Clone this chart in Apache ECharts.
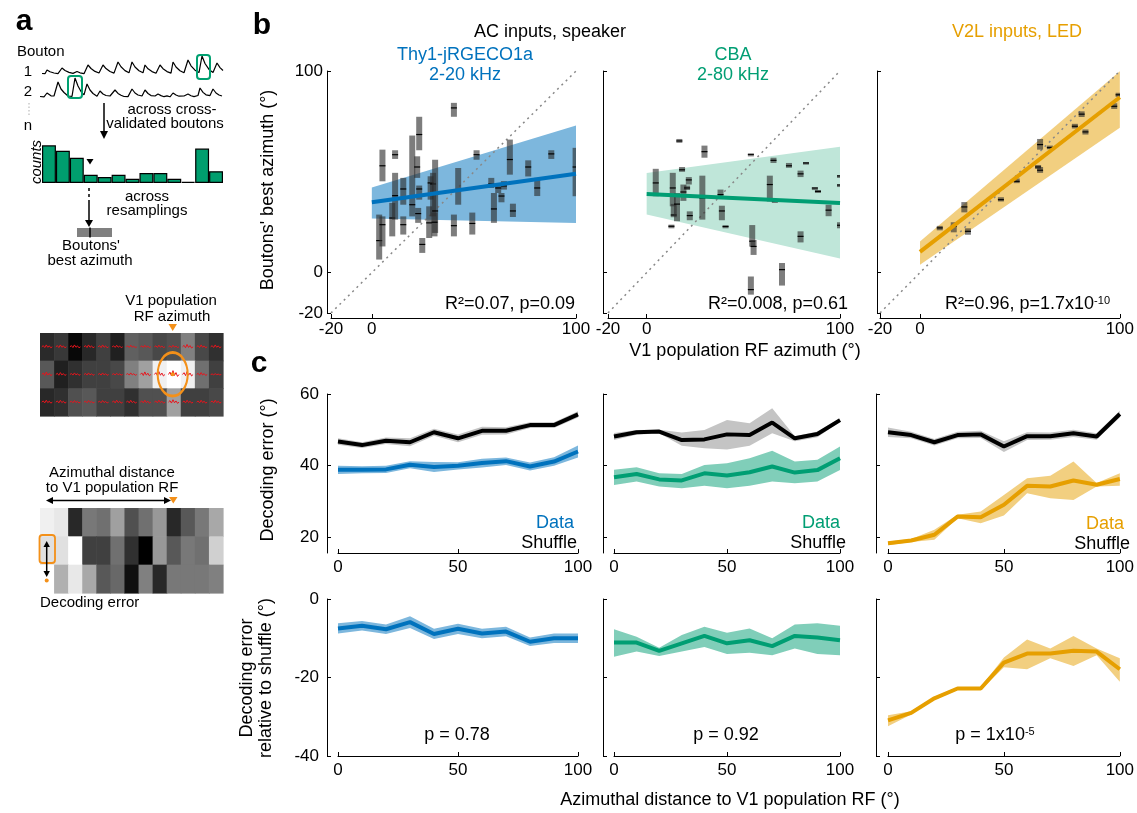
<!DOCTYPE html>
<html>
<head>
<meta charset="utf-8">
<script src="https://cdn.jsdelivr.net/npm/echarts@6/dist/echarts.min.js"></script>
<style>
html,body{margin:0;padding:0;background:#fff;}
#chart{width:1137px;height:813px;}
</style>
</head>
<body>
<div id="chart"></div>
<script>
const FONT = '"Liberation Sans", Arial, Helvetica, sans-serif';
const BLUE = '#0072BD', GREEN = '#009E73', ORANGE = '#E69F00';

// ---- panel a: schematic data ----
// dF/F traces of two boutons, [time, value]
const bouton1Trace = [[0,0.5],[3,0.3],[5,4],[8,2.2],[12,1],[16,0.4],[18,0.2],[20,6],[23,3.5],[27,1.6],[31,0.6],[33,0.4],[35,2.5],[38,1.2],[42,0.3],[44,0.2],[46,9],[49,5.5],[53,2.6],[57,1],[59,0.4],[61,9],[64,5.4],[68,2.5],[72,0.9],[74,0.5],[76,12],[79,7.2],[83,3.4],[87,1.2],[88,0.8],[90,12],[93,7],[97,3.2],[101,1.2],[103,9],[106,5.2],[110,2.4],[114,0.8],[116,0.5],[118,9],[121,5.3],[125,2.4],[129,0.9],[131,12],[134,7],[138,3.3],[142,1.2],[144,0.8],[146,14],[149,8.2],[153,3.8],[157,1.4],[158,1],[160,18],[163,10.5],[167,4.6],[171,1.6],[173,1],[175,11],[178,6.4],[181,3.5]];
const bouton2Trace = [[0,0.5],[2,1.5],[4,0.2],[5,1],[7,4],[9,2],[11,1.2],[13,0.3],[14,1],[16,3],[18,15],[21,8],[24,4.5],[26,2.5],[28,1],[30,1.8],[32,0.6],[35,19],[38,11],[41,5.5],[44,2.2],[45,1.5],[47,13],[50,7],[53,3.5],[55,2],[57,0.8],[58,1.6],[60,6],[63,3],[66,1.5],[68,0.3],[70,1],[72,1.4],[75,7],[78,3.6],[81,1.8],[84,0.5],[86,1.2],[88,0.4],[90,1.6],[92,8],[95,4],[98,2],[100,0.6],[102,1],[105,7],[108,3.5],[111,1.4],[113,0.3],[115,1],[118,3],[121,1.4],[124,0.3],[127,1.1],[130,0.2],[133,4],[136,2],[139,0.8],[141,0.2],[144,1],[146,0.3],[148,3],[151,1.3],[154,0.4],[156,0.9],[158,1.5],[160,9],[163,4.6],[166,2.2],[168,0.8],[170,1.4],[173,8],[176,4],[179,2],[182,1]];
const histCounts = [35, 30, 23.5, 7.7, 5.6, 7.7, 4, 9.3, 9.3, 4, 1, 32, 11];
// grey levels (0-255) of the example maps, one array per row
const rfMapRows = [
  [42, 56, 8, 40, 64, 32, 96, 88, 72, 80, 128, 72, 48],
  [88, 32, 48, 64, 64, 72, 128, 160, 240, 255, 240, 112, 64],
  [40, 48, 80, 88, 64, 64, 48, 80, 80, 160, 64, 64, 72]
];
const rfTraceAmp = [
  [1.2, 1.2, 1.2, 1.2, 1.2, 1, 1, 1, 1, 1, 1.5, 1.2, 1.2],
  [1.5, 1.2, 1, 1, 1, 0.8, 1, 1.6, 1.8, 2.4, 1.8, 1.2, 0.5],
  [1.2, 1.2, 1, 1, 1, 1.2, 1.2, 1.2, 1.2, 1.5, 1.2, 1.2, 1.2]
];
const wiggle = [0, -0.5, 0.3, -0.8, 0.2, -0.4, 0.4, 0];
const errMapRows = [
  [240, 232, 40, 120, 112, 160, 80, 112, 152, 40, 88, 120, 168],
  [224, 224, 255, 64, 64, 112, 48, 0, 152, 88, 120, 112, 208],
  [255, 176, 232, 168, 88, 104, 16, 128, 40, 120, 120, 120, 128]
];

// ---- panel b: [V1 RF azimuth, bouton median, low, high] ----
const jrgecoPts = [[5.2,53,45.3,61],[3.6,15.9,6.5,28.8],[5.2,23.8,13,27.9],[10,27.1,18,34.6],[11.4,58.5,56.4,60.7],[11.4,38.2,26.3,49.5],[15.4,41.5,33.7,47],[15.4,23.8,18.9,27.9],[19.8,33.7,27.9,68],[22.2,52.4,47,57.7],[23.2,68.5,60.7,77.3],[23.2,41.5,36.2,43.2],[22.7,29.3,24.7,32.1],[24.7,14,9.8,17.2],[28.1,24.7,17.2,32.9],[28.8,44.5,36.2,47.8],[30,44,27.9,49.5],[31,30.6,19.7,56],[30.7,25,18,29.8],[40.2,81.7,77.3,84.2],[40.2,23.3,18,28.8],[42.3,41.2,33.7,51.9],[49.2,24.4,18.9,29.8],[51.3,58.5,56,60.7],[58.5,44,42,47],[59.8,31.6,24.7,39.5],[61.9,42,39.5,43.7],[63.5,38,34.9,39.5],[64.7,43,41.2,45.4],[67.6,56.1,48.6,66],[69.1,30.6,27.6,34.2],[76.6,52.4,47.7,55.7],[81,42,38,47],[87.9,58.9,56.4,60.7],[99.8,52.4,37.9,61.9]];
const cbaPts = [[4.7,44.5,37.9,51.5],[12.8,23,22,23.8],[13.5,42,32.9,49.5],[14,28.6,27.5,34.1],[15.7,34,25.5,39.5],[16.9,65.3,64.4,66.3],[18.3,51,50,52.4],[19,40,35.6,43.7],[20.9,42,41,43.2],[21.8,46,43.7,47.4],[22.3,28.3,26,30.4],[28.8,37,26.3,48.1],[29.9,60,57,63],[38.2,38.7,36.5,41.2],[38.9,30.6,26,33.2],[40.8,22.9,22,23.5],[53.9,58.7,58.5,58.9],[54.6,15.6,12.9,23.6],[55.3,13,8.8,16.2],[53.9,-8.4,-10.9,-1.9],[63.7,43.7,35.3,48.1],[65.6,55.7,54.4,57],[66.3,35.4,35,35.8],[70,1.5,-6.4,4.8],[73.6,53,52,54.4],[79.6,49,47.4,50.6],[79.6,18,15,20.5],[82.4,54.4,54,54.8],[87,42,41.8,42.2],[88.6,40.3,39.5,41],[94.1,31,28,33.7],[100,48,47.8,48.2],[100,43.5,43.3,43.7],[100,23.5,22,25]];
const v2lPts = [[9.9,22.2,21,23.2],[16.9,23,20,25],[22.2,32.6,29.9,35],[24,20.5,18.8,22],[40.5,36.2,35.3,37.4],[48.4,45.3,44.4,46.7],[59.1,52.4,51.4,53.4],[60.1,50.8,49.5,52.4],[60.1,63.5,61,66.3],[65,62,61.2,63],[77.5,72.6,71.5,73.8],[80.9,78.6,77.2,80],[82.8,69.8,68.5,71],[97.2,82.5,81.2,84],[99.4,88.2,87.2,89.2]];
const fitX = [0, 100];
const jrgecoFit = [34.9, 49.1], jrgecoFitLo = [26.8, 24.6], jrgecoFitHi = [42.2, 73.0];
const cbaFit = [39.0, 34.5], cbaFitLo = [28.8, 7.0], cbaFitHi = [49.4, 62.4];
const v2lFit = [10.3, 87.0], v2lFitLo = [3.9, 71.8], v2lFitHi = [15.5, 99.9];
const bTicks = [-20, 0, 100];

// ---- panel c: decoding error vs distance to V1 population RF ----
const distX = [0, 10, 20, 30, 40, 50, 60, 70, 80, 90, 100];
const jrgecoShuf = [46.7,45.7,46.9,46.5,49.3,47.6,49.7,49.7,51.3,51.3,54.3];
const jrgecoShufLo = [45.8,44.9,46.0,45.4,48.3,46.5,48.6,48.7,50.5,50.5,53.4];
const jrgecoShufHi = [47.6,46.5,47.8,47.6,50.3,48.7,50.8,50.7,52.1,52.1,55.2];
const jrgecoDec = [38.8,38.8,38.9,40.2,39.6,39.9,40.7,41.2,39.7,41.1,43.9];
const jrgecoDecLo = [37.6,37.8,37.9,39.2,38.2,38.9,39.4,40.1,38.6,39.9,42.2];
const jrgecoDecHi = [39.9,39.8,39.9,41.2,41.0,40.9,41.9,42.2,40.8,42.3,45.6];
const cbaShuf = [48.1,49.3,49.5,47.1,47.3,48.7,48.5,52.0,47.6,48.8,52.7];
const cbaShufLo = [47.1,48.6,49.0,45.5,44.8,44.5,45.5,49.0,46.8,47.9,52.2];
const cbaShufHi = [49.1,49.9,50.0,49.2,49.9,52.7,51.8,56.0,48.2,49.5,53.2];
const cbaDec = [36.7,37.6,36.1,35.8,37.8,37.2,38.1,39.7,38.0,38.7,42.0];
const cbaDecLo = [34.5,35.5,34.1,33.6,34.3,33.6,34.3,35.5,35.0,35.5,38.7];
const cbaDecHi = [38.8,39.5,37.8,37.6,40.1,40.6,42.0,44.1,41.1,41.6,45.3];
const v2lShuf = [49.3,48.5,46.5,48.5,48.7,45.3,48.2,48.2,49.0,48.1,54.4];
const v2lShufLo = [48.0,47.6,45.6,47.6,47.7,43.8,47.1,47.2,48.0,47.2,53.5];
const v2lShufHi = [50.6,49.4,47.4,49.4,49.7,46.8,49.3,49.2,50.0,49.0,55.3];
const v2lDec = [18.2,19.0,20.6,25.7,25.5,29.0,34.3,34.1,35.8,34.6,36.2];
const v2lDecLo = [17.7,18.6,19.2,25.2,23.8,26.0,32.2,30.8,30.3,34.1,34.3];
const v2lDecHi = [18.7,19.4,22.0,26.2,27.1,31.7,36.4,37.1,41.1,35.1,37.8];
const jrgecoRel = [-7.5,-6.8,-7.7,-5.9,-8.9,-7.6,-8.8,-8.3,-10.9,-10.0,-10.0];
const jrgecoRelLo = [-8.8,-8.0,-8.9,-7.4,-10.2,-8.9,-10.0,-9.5,-12.0,-11.2,-11.2];
const jrgecoRelHi = [-6.2,-5.6,-6.5,-4.4,-7.6,-6.3,-7.6,-7.1,-9.8,-8.8,-8.8];
const cbaRel = [-11.1,-11.1,-13.2,-11.3,-9.4,-11.3,-10.5,-12.0,-9.4,-9.8,-10.5];
const cbaRelLo = [-14.7,-13.4,-14.5,-13.4,-12.2,-14.0,-13.7,-14.3,-12.6,-14.0,-14.3];
const cbaRelHi = [-7.7,-9.6,-12.4,-9.2,-7.1,-8.6,-7.5,-10.0,-6.5,-6.2,-6.8];
const v2lRel = [-30.9,-29.0,-25.3,-22.8,-22.8,-16.2,-13.9,-13.9,-13.2,-13.4,-17.9];
const v2lRelLo = [-32.4,-29.4,-25.7,-23.2,-23.2,-17.4,-17.9,-15.1,-17.1,-14.3,-21.1];
const v2lRelHi = [-29.6,-28.6,-24.9,-22.4,-22.4,-14.9,-10.3,-12.6,-9.4,-12.6,-15.1];
const decTicks = [20, 40, 60], relTicks = [-40, -20, 0], distTicks = [0, 50, 100];

// ---------------------------------------------------------------
const chart = echarts.init(document.getElementById('chart'));

const grids = [
  {left:331, top:71, width:245, height:242},   // 0 b1
  {left:608, top:71, width:232, height:242},   // 1 b2
  {left:880, top:71, width:243, height:242},   // 2 b3
  {left:338, top:394, width:240, height:159},  // 3 c row1
  {left:614, top:394, width:226, height:159},
  {left:888, top:394, width:235, height:159},
  {left:338, top:599, width:240, height:157},  // 6 c row2
  {left:614, top:599, width:226, height:157},
  {left:888, top:599, width:235, height:157},
  {left:42, top:52, width:181, height:24},     // 9 trace 1
  {left:40, top:75, width:182, height:24},     // 10 trace 2
  {left:42, top:140, width:181, height:43},    // 11 histogram
  {left:40, top:333, width:183, height:83},    // 12 RF map
  {left:40, top:508, width:183, height:85}     // 13 error map
];

function valAxis(gi, min, max, ticks, showLabel, offset, margin) {
  return {
    type: 'value', gridIndex: gi, min: min, max: max, offset: offset || 0,
    axisLine: { show: true, onZero: false, lineStyle: { color: '#000', width: 1 } },
    axisTick: { show: true, inside: true, length: 4, lineStyle: { color: '#000' }, customValues: ticks },
    axisLabel: { show: showLabel, customValues: ticks, color: '#000', fontSize: 17, fontFamily: FONT, margin: margin },
    splitLine: { show: false }
  };
}
const hidden = (gi, type, extra) => Object.assign({ type: type, gridIndex: gi, show: false, splitLine: {show: false} }, extra || {});

const xAxes = [
  valAxis(0, -20, 100, bTicks, true, 5, 3),
  valAxis(1, -20, 100, bTicks, true, 5, 3),
  valAxis(2, -20, 100, bTicks, true, 5, 3),
  valAxis(3, 0, 100, distTicks, true, 0, 6),
  valAxis(4, 0, 100, distTicks, true, 0, 6),
  valAxis(5, 0, 100, distTicks, true, 0, 6),
  valAxis(6, 0, 100, distTicks, true, 0, 6),
  valAxis(7, 0, 100, distTicks, true, 0, 6),
  valAxis(8, 0, 100, distTicks, true, 0, 6),
  hidden(9, 'value', {min: 0, max: 181}),
  hidden(10, 'value', {min: 0, max: 182}),
  hidden(11, 'category', {data: histCounts.map((c, i) => i)}),
  hidden(12, 'category', {data: rfMapRows[0].map((c, i) => i)}),
  hidden(13, 'category', {data: errMapRows[0].map((c, i) => i)})
];
const yAxes = [
  valAxis(0, -20, 100, bTicks, true, 4, 4),
  valAxis(1, -20, 100, bTicks, false, 5, 4),
  valAxis(2, -20, 100, bTicks, false, 3, 4),
  valAxis(3, 15.5, 60, decTicks, true, 11, 8),
  valAxis(4, 15.5, 60, decTicks, false, 11, 8),
  valAxis(5, 15.5, 60, decTicks, false, 12, 8),
  valAxis(6, -40, 0, relTicks, true, 11, 8),
  valAxis(7, -40, 0, relTicks, false, 11, 8),
  valAxis(8, -40, 0, relTicks, false, 12, 8),
  hidden(9, 'value', {min: -2, max: 22}),
  hidden(10, 'value', {min: -2, max: 22}),
  hidden(11, 'value', {min: 0, max: 40}),
  hidden(12, 'category', {data: [0, 1, 2], inverse: true}),
  hidden(13, 'category', {data: [0, 1, 2], inverse: true})
];

function band(gi, xs, lo, hi, color) {
  return {
    type: 'custom', xAxisIndex: gi, yAxisIndex: gi, z: 1, silent: true, clip: true,
    data: xs.map((x, i) => [x, lo[i], hi[i]]),
    renderItem: (p, api) => {
      if (p.dataIndex !== 0) return;
      const pts = [];
      for (let i = 0; i < xs.length; i++) pts.push(api.coord([xs[i], hi[i]]));
      for (let i = xs.length - 1; i >= 0; i--) pts.push(api.coord([xs[i], lo[i]]));
      return { type: 'polygon', shape: { points: pts }, style: { fill: color } };
    }
  };
}
function line(gi, xs, ys, color, width, z) {
  return {
    type: 'line', xAxisIndex: gi, yAxisIndex: gi, z: z || 3, silent: true,
    data: xs.map((x, i) => [x, ys[i]]), showSymbol: false, symbol: 'none',
    lineStyle: { color: color, width: width || 4 }
  };
}
function boutons(gi, pts) {
  return {
    type: 'custom', xAxisIndex: gi, yAxisIndex: gi, z: 2, silent: true, clip: true,
    data: pts,
    renderItem: (p, api) => {
      const x = api.value(0);
      const top = api.coord([x, api.value(3)]);
      const bot = api.coord([x, api.value(2)]);
      const mid = api.coord([x, api.value(1)]);
      const h = Math.max(bot[1] - top[1], 2.5);
      return { type: 'group', children: [
        { type: 'rect', shape: { x: top[0] - 3, y: top[1], width: 6, height: h }, style: { fill: 'rgba(45,45,45,0.62)' } },
        { type: 'line', shape: { x1: mid[0] - 3, y1: mid[1], x2: mid[0] + 3, y2: mid[1] }, style: { stroke: '#000', lineWidth: 1.2 } }
      ]};
    }
  };
}
function unity(gi) {
  return {
    type: 'line', xAxisIndex: gi, yAxisIndex: gi, z: 1.5, silent: true, showSymbol: false, symbol: 'none',
    data: [[-20, -20], [100, 100]],
    lineStyle: { color: '#888', width: 1.5, type: [2, 4] }
  };
}
function cells(gi, rows) {
  const data = [];
  rows.forEach((row, r) => row.forEach((v, c) => data.push([c, r, v])));
  return {
    type: 'custom', xAxisIndex: gi, yAxisIndex: gi, z: 1, silent: true, data: data,
    renderItem: (p, api) => {
      const c = api.coord([api.value(0), api.value(1)]);
      const s = api.size([1, 1]);
      const g = Math.round(api.value(2));
      return { type: 'rect', shape: { x: c[0] - s[0] / 2, y: c[1] - s[1] / 2, width: s[0] + 0.6, height: s[1] + 0.6 },
               style: { fill: 'rgb(' + g + ',' + g + ',' + g + ')' } };
    }
  };
}
function cellTraces(gi, amps) {
  const data = [];
  amps.forEach((row, r) => row.forEach((a, c) => data.push([c, r, a])));
  return {
    type: 'custom', xAxisIndex: gi, yAxisIndex: gi, z: 2, silent: true, data: data,
    renderItem: (p, api) => {
      const c = api.coord([api.value(0), api.value(1)]);
      const s = api.size([1, 1]);
      const a = api.value(2);
      const w = s[0] * 0.75;
      const pts = wiggle.map((v, i) => [c[0] - w / 2 + i * w / (wiggle.length - 1), c[1] + v * a * 2]);
      return { type: 'polyline', shape: { points: pts }, style: { stroke: '#e8141c', lineWidth: 1, fill: null } };
    }
  };
}

const series = [
  // b
  band(0, fitX, jrgecoFitLo, jrgecoFitHi, '#7db7dd'), unity(0), boutons(0, jrgecoPts), line(0, fitX, jrgecoFit, BLUE, 4),
  band(1, fitX, cbaFitLo, cbaFitHi, '#bfe6d9'), unity(1), boutons(1, cbaPts), line(1, fitX, cbaFit, GREEN, 4),
  band(2, fitX, v2lFitLo, v2lFitHi, '#f2cf80'), unity(2), boutons(2, v2lPts), line(2, fitX, v2lFit, ORANGE, 4),
  // c row 1
  band(3, distX, jrgecoShufLo, jrgecoShufHi, '#c4c4c4'), line(3, distX, jrgecoShuf, '#000'),
  band(3, distX, jrgecoDecLo, jrgecoDecHi, '#7db7dd'), line(3, distX, jrgecoDec, BLUE),
  band(4, distX, cbaShufLo, cbaShufHi, '#c4c4c4'), line(4, distX, cbaShuf, '#000'),
  band(4, distX, cbaDecLo, cbaDecHi, '#80ceb9'), line(4, distX, cbaDec, GREEN),
  band(5, distX, v2lShufLo, v2lShufHi, '#c4c4c4'), line(5, distX, v2lShuf, '#000'),
  band(5, distX, v2lDecLo, v2lDecHi, '#f2cf80'), line(5, distX, v2lDec, ORANGE),
  // c row 2
  band(6, distX, jrgecoRelLo, jrgecoRelHi, '#7db7dd'), line(6, distX, jrgecoRel, BLUE),
  band(7, distX, cbaRelLo, cbaRelHi, '#80ceb9'), line(7, distX, cbaRel, GREEN),
  band(8, distX, v2lRelLo, v2lRelHi, '#f2cf80'), line(8, distX, v2lRel, ORANGE),
  // a
  { type: 'line', xAxisIndex: 9, yAxisIndex: 9, data: bouton1Trace, showSymbol: false, symbol: 'none', silent: true,
    lineStyle: { color: '#000', width: 1.2 } },
  { type: 'line', xAxisIndex: 10, yAxisIndex: 10, data: bouton2Trace, showSymbol: false, symbol: 'none', silent: true,
    lineStyle: { color: '#000', width: 1.2 } },
  { type: 'bar', xAxisIndex: 11, yAxisIndex: 11, data: histCounts, barCategoryGap: '0%', silent: true,
    itemStyle: { color: '#009e6e', borderColor: '#000', borderWidth: 1.2 } },
  cells(12, rfMapRows), cellTraces(12, rfTraceAmp),
  cells(13, errMapRows)
];

function T(x, y, s, o) {
  o = o || {};
  const al = o.align || 'center';
  return {
    type: 'text', x: x, y: y, rotation: o.rot || 0, z: 100, silent: true,
    style: {
      text: s, fill: o.color || '#000', fontSize: o.size || 18, fontFamily: FONT,
      fontWeight: o.weight || 'normal', fontStyle: o.italic ? 'italic' : 'normal',
      align: al, verticalAlign: 'middle', textAlign: al, textVerticalAlign: 'middle', rich: o.rich
    }
  };
}
const L = (x1, y1, x2, y2, o) => ({ type: 'line', z: 100, silent: true, shape: { x1, y1, x2, y2 },
  style: Object.assign({ stroke: '#000', lineWidth: 1.5 }, o || {}) });
const P = (pts, fill) => ({ type: 'polygon', z: 100, silent: true, shape: { points: pts }, style: { fill: fill || '#000' } });
const supRich = (size) => ({ m: { fontSize: size, fontFamily: FONT, fill: '#000' },
  s: { fontSize: 11, fontFamily: FONT, fill: '#000', verticalAlign: 'top' } });

const graphics = [
  // panel letters
  T(24, 22, 'a', { size: 30, weight: 'bold' }),
  T(262, 26, 'b', { size: 30, weight: 'bold' }),
  T(259, 364, 'c', { size: 30, weight: 'bold' }),
  // panel a
  T(17, 52, 'Bouton', { size: 15, align: 'left' }),
  T(28, 72, '1', { size: 15 }), T(28, 92, '2', { size: 15 }), T(28, 126, 'n', { size: 15 }),
  L(29, 103, 29, 116, { stroke: '#bbb', lineWidth: 1.2, lineDash: [1.5, 2] }),
  { type: 'rect', z: 100, silent: true, shape: { x: 197, y: 55, width: 13, height: 24, r: 3 }, style: { fill: null, stroke: '#00a070', lineWidth: 2 } },
  { type: 'rect', z: 100, silent: true, shape: { x: 68, y: 76, width: 14, height: 22, r: 3 }, style: { fill: null, stroke: '#00a070', lineWidth: 2 } },
  L(104, 103, 104, 132), P([[100, 131], [108, 131], [104, 139]]),
  T(172, 110, 'across cross-', { size: 15 }), T(165, 124, 'validated boutons', { size: 15 }),
  T(37, 162, 'counts', { size: 15, italic: true, rot: Math.PI / 2 }),
  P([[86.5, 159], [93.5, 159], [90, 164.5]]),
  L(89, 188, 89, 203, { lineDash: [3, 3] }), L(89, 203, 89, 221), P([[85, 220], [93, 220], [89, 227]]),
  T(147, 197, 'across', { size: 15 }), T(147, 211, 'resamplings', { size: 15 }),
  { type: 'rect', z: 100, silent: true, shape: { x: 77, y: 228, width: 35, height: 9 }, style: { fill: '#808080' } },
  L(90, 227.5, 90, 237.5, { lineWidth: 1.5 }),
  T(91, 246, 'Boutons\'', { size: 15 }), T(90, 261, 'best azimuth', { size: 15 }),
  T(171, 301, 'V1 population', { size: 15 }), T(172, 317, 'RF azimuth', { size: 15 }),
  P([[168.5, 324], [177, 324], [172.7, 331]], '#f39019'),
  { type: 'circle', z: 100, silent: true, x: 172.7, y: 374.3, scaleY: 1.45, shape: { cx: 0, cy: 0, r: 15 },
    style: { fill: null, stroke: '#f39019', lineWidth: 2, strokeNoScale: true } },
  { type: 'circle', z: 100, silent: true, shape: { cx: 172.7, cy: 374.3, r: 2 }, style: { fill: '#f39019' } },
  T(112, 473, 'Azimuthal distance', { size: 15 }), T(112, 488, 'to V1 population RF', { size: 15 }),
  L(52, 500.5, 165, 500.5), P([[46, 500.5], [53, 497], [53, 504]]), P([[171, 500.5], [164, 497], [164, 504]]),
  P([[169, 497], [177.5, 497], [173.3, 503.5]], '#f39019'),
  { type: 'rect', z: 100, silent: true, shape: { x: 39.5, y: 535, width: 15.5, height: 28, r: 3 }, style: { fill: null, stroke: '#f39019', lineWidth: 1.8 } },
  L(46.7, 546, 46.7, 572), P([[43.5, 547], [49.9, 547], [46.7, 541]]), P([[43.5, 571], [49.9, 571], [46.7, 577]]),
  { type: 'circle', z: 100, silent: true, shape: { cx: 46.7, cy: 580.5, r: 2 }, style: { fill: '#f39019' } },
  T(40, 603, 'Decoding error', { size: 15, align: 'left' }),
  // panel b texts
  T(550, 32, 'AC inputs, speaker'),
  T(1017, 32, 'V2L inputs, LED', { color: ORANGE }),
  T(465, 55, 'Thy1-jRGECO1a', { color: BLUE }), T(465, 75, '2-20 kHz', { color: BLUE }),
  T(733, 55, 'CBA', { color: GREEN }), T(733, 75, '2-80 kHz', { color: GREEN }),
  T(268, 190, 'Boutons\' best azimuth (°)', { rot: Math.PI / 2 }),
  T(575, 304, 'R²=0.07, p=0.09', { align: 'right' }),
  T(848, 304, 'R²=0.008, p=0.61', { align: 'right' }),
  T(1110, 304, '{m|R²=0.96, p=1.7x10}{s|-10}', { align: 'right', rich: supRich(18) }),
  T(745, 351, 'V1 population RF azimuth (°)'),
  // panel c texts
  T(268, 470, 'Decoding error (°)', { rot: Math.PI / 2 }),
  T(247, 678, 'Decoding error', { rot: Math.PI / 2 }),
  T(266, 678, 'relative to shuffle (°)', { rot: Math.PI / 2 }),
  T(574, 523, 'Data', { align: 'right', color: BLUE }), T(577, 543, 'Shuffle', { align: 'right' }),
  T(840, 523, 'Data', { align: 'right', color: GREEN }), T(846, 543, 'Shuffle', { align: 'right' }),
  T(1124, 524, 'Data', { align: 'right', color: ORANGE }), T(1130, 544, 'Shuffle', { align: 'right' }),
  T(457, 735, 'p = 0.78'), T(726, 735, 'p = 0.92'),
  T(995, 735, '{m|p = 1x10}{s|-5}', { rich: supRich(18) }),
  T(730, 800, 'Azimuthal distance to V1 population RF (°)')
];

chart.setOption({
  backgroundColor: '#fff',
  animation: false,
  textStyle: { fontFamily: FONT },
  grid: grids,
  xAxis: xAxes,
  yAxis: yAxes,
  series: series,
  graphic: { elements: graphics }
});
</script>
</body>
</html>
